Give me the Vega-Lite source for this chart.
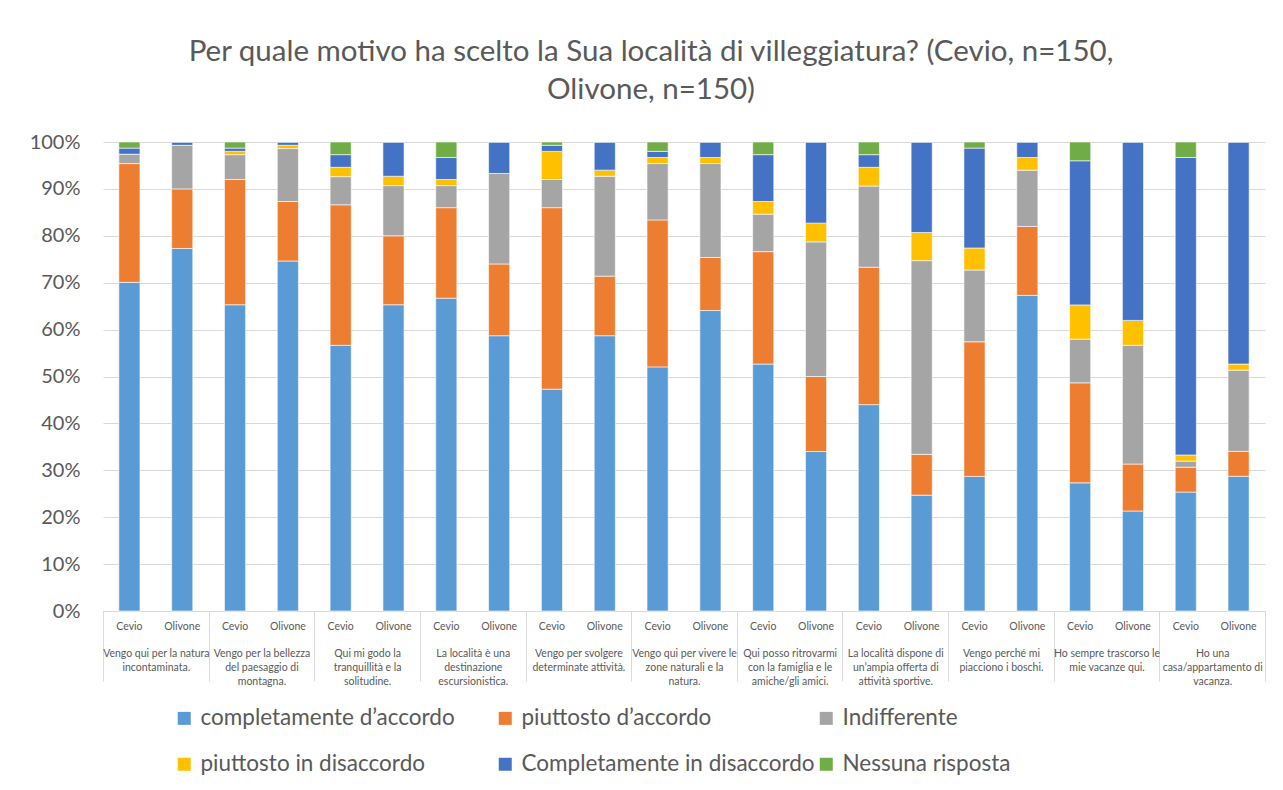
{
  "$schema": "https://vega.github.io/schema/vega-lite/v6.json",
  "width": 1162,
  "height": 469,
  "autosize": {"type": "none"},
  "padding": {"left": 103, "top": 142, "right": 18, "bottom": 179},
  "background": "white",
  "config": {"view": {"stroke": null}},
  "title": {
    "text": ["Per quale motivo ha scelto la Sua località di villeggiatura? (Cevio, n=150,", "Olivone, n=150)"],
    "font": "Lato", "fontSize": 29.5, "fontWeight": "normal", "color": "#595959",
    "lineHeight": 38, "anchor": "middle", "frame": "group", "offset": 27, "dx": -33
  },
  "data": {"values": [
    {"gruppo": "Vengo qui per la natura incontaminata.", "sito": "Cevio", "completamente d’accordo": 70.0, "piuttosto d’accordo": 25.3, "Indifferente": 2.0, "piuttosto in disaccordo": 0, "Completamente in disaccordo": 1.3, "Nessuna risposta": 1.3},
    {"gruppo": "Vengo qui per la natura incontaminata.", "sito": "Olivone", "completamente d’accordo": 77.3, "piuttosto d’accordo": 12.7, "Indifferente": 9.3, "piuttosto in disaccordo": 0, "Completamente in disaccordo": 0.7, "Nessuna risposta": 0},
    {"gruppo": "Vengo per la bellezza del paesaggio di montagna.", "sito": "Cevio", "completamente d’accordo": 65.3, "piuttosto d’accordo": 26.7, "Indifferente": 5.3, "piuttosto in disaccordo": 0.7, "Completamente in disaccordo": 0.7, "Nessuna risposta": 1.3},
    {"gruppo": "Vengo per la bellezza del paesaggio di montagna.", "sito": "Olivone", "completamente d’accordo": 74.7, "piuttosto d’accordo": 12.7, "Indifferente": 11.3, "piuttosto in disaccordo": 0.7, "Completamente in disaccordo": 0.7, "Nessuna risposta": 0},
    {"gruppo": "Qui mi godo la tranquillità e la solitudine.", "sito": "Cevio", "completamente d’accordo": 56.7, "piuttosto d’accordo": 30.0, "Indifferente": 6.0, "piuttosto in disaccordo": 2.0, "Completamente in disaccordo": 2.7, "Nessuna risposta": 2.7},
    {"gruppo": "Qui mi godo la tranquillità e la solitudine.", "sito": "Olivone", "completamente d’accordo": 65.3, "piuttosto d’accordo": 14.7, "Indifferente": 10.7, "piuttosto in disaccordo": 2.0, "Completamente in disaccordo": 7.3, "Nessuna risposta": 0},
    {"gruppo": "La località è una destinazione escursionistica.", "sito": "Cevio", "completamente d’accordo": 66.7, "piuttosto d’accordo": 19.3, "Indifferente": 4.7, "piuttosto in disaccordo": 1.3, "Completamente in disaccordo": 4.7, "Nessuna risposta": 3.3},
    {"gruppo": "La località è una destinazione escursionistica.", "sito": "Olivone", "completamente d’accordo": 58.7, "piuttosto d’accordo": 15.3, "Indifferente": 19.3, "piuttosto in disaccordo": 0, "Completamente in disaccordo": 6.7, "Nessuna risposta": 0},
    {"gruppo": "Vengo per svolgere determinate attività.", "sito": "Cevio", "completamente d’accordo": 47.3, "piuttosto d’accordo": 38.7, "Indifferente": 6.0, "piuttosto in disaccordo": 6.0, "Completamente in disaccordo": 1.3, "Nessuna risposta": 0.7},
    {"gruppo": "Vengo per svolgere determinate attività.", "sito": "Olivone", "completamente d’accordo": 58.7, "piuttosto d’accordo": 12.7, "Indifferente": 21.3, "piuttosto in disaccordo": 1.3, "Completamente in disaccordo": 6.0, "Nessuna risposta": 0},
    {"gruppo": "Vengo qui per vivere le zone naturali e la natura.", "sito": "Cevio", "completamente d’accordo": 52.0, "piuttosto d’accordo": 31.3, "Indifferente": 12.0, "piuttosto in disaccordo": 1.3, "Completamente in disaccordo": 1.3, "Nessuna risposta": 2.0},
    {"gruppo": "Vengo qui per vivere le zone naturali e la natura.", "sito": "Olivone", "completamente d’accordo": 64.0, "piuttosto d’accordo": 11.3, "Indifferente": 20.0, "piuttosto in disaccordo": 1.3, "Completamente in disaccordo": 3.3, "Nessuna risposta": 0},
    {"gruppo": "Qui posso ritrovarmi con la famiglia e le amiche/gli amici.", "sito": "Cevio", "completamente d’accordo": 52.7, "piuttosto d’accordo": 24.0, "Indifferente": 8.0, "piuttosto in disaccordo": 2.7, "Completamente in disaccordo": 10.0, "Nessuna risposta": 2.7},
    {"gruppo": "Qui posso ritrovarmi con la famiglia e le amiche/gli amici.", "sito": "Olivone", "completamente d’accordo": 34.0, "piuttosto d’accordo": 16.0, "Indifferente": 28.7, "piuttosto in disaccordo": 4.0, "Completamente in disaccordo": 17.3, "Nessuna risposta": 0},
    {"gruppo": "La località dispone di un’ampia offerta di attività sportive.", "sito": "Cevio", "completamente d’accordo": 44.0, "piuttosto d’accordo": 29.3, "Indifferente": 17.3, "piuttosto in disaccordo": 4.0, "Completamente in disaccordo": 2.7, "Nessuna risposta": 2.7},
    {"gruppo": "La località dispone di un’ampia offerta di attività sportive.", "sito": "Olivone", "completamente d’accordo": 24.7, "piuttosto d’accordo": 8.7, "Indifferente": 41.3, "piuttosto in disaccordo": 6.0, "Completamente in disaccordo": 19.3, "Nessuna risposta": 0},
    {"gruppo": "Vengo perché mi piacciono i boschi.", "sito": "Cevio", "completamente d’accordo": 28.7, "piuttosto d’accordo": 28.7, "Indifferente": 15.3, "piuttosto in disaccordo": 4.7, "Completamente in disaccordo": 21.3, "Nessuna risposta": 1.3},
    {"gruppo": "Vengo perché mi piacciono i boschi.", "sito": "Olivone", "completamente d’accordo": 67.3, "piuttosto d’accordo": 14.7, "Indifferente": 12.0, "piuttosto in disaccordo": 2.7, "Completamente in disaccordo": 3.3, "Nessuna risposta": 0},
    {"gruppo": "Ho sempre trascorso le mie vacanze qui.", "sito": "Cevio", "completamente d’accordo": 27.3, "piuttosto d’accordo": 21.3, "Indifferente": 9.3, "piuttosto in disaccordo": 7.3, "Completamente in disaccordo": 30.7, "Nessuna risposta": 4.0},
    {"gruppo": "Ho sempre trascorso le mie vacanze qui.", "sito": "Olivone", "completamente d’accordo": 21.3, "piuttosto d’accordo": 10.0, "Indifferente": 25.3, "piuttosto in disaccordo": 5.3, "Completamente in disaccordo": 38.0, "Nessuna risposta": 0},
    {"gruppo": "Ho una casa/appartamento di vacanza.", "sito": "Cevio", "completamente d’accordo": 25.3, "piuttosto d’accordo": 5.3, "Indifferente": 1.3, "piuttosto in disaccordo": 1.3, "Completamente in disaccordo": 63.3, "Nessuna risposta": 3.3},
    {"gruppo": "Ho una casa/appartamento di vacanza.", "sito": "Olivone", "completamente d’accordo": 28.7, "piuttosto d’accordo": 5.3, "Indifferente": 17.3, "piuttosto in disaccordo": 1.3, "Completamente in disaccordo": 47.3, "Nessuna risposta": 0}
  ]},
  "transform": [
    {"fold": ["completamente d’accordo", "piuttosto d’accordo", "Indifferente", "piuttosto in disaccordo", "Completamente in disaccordo", "Nessuna risposta"], "as": ["risposta", "valore"]},
    {"window": [{"op": "row_number", "as": "ordine"}], "groupby": ["gruppo", "sito"]}
  ],
  "encoding": {
    "x": {
      "field": "gruppo", "type": "nominal", "sort": null,
      "scale": {"paddingInner": 0, "paddingOuter": 0},
      "axis": {
        "title": null, "labelAngle": 0, "labelAlign": "center", "labelBaseline": "top",
        "labelFont": "Lato", "labelFontSize": 10.5, "labelColor": "#595959", "labelLineHeight": 14,
        "labelPadding": -33, "labelOverlap": false, "labelLimit": 0,
        "tickBand": "extent", "tickSize": 70, "tickColor": "#d9d9d9", "tickWidth": 1,
        "domainColor": "#d9d9d9", "domainWidth": 1, "grid": false,
        "labelExpr": "{'Vengo qui per la natura incontaminata.': ['Vengo qui per la natura', 'incontaminata.'], 'Vengo per la bellezza del paesaggio di montagna.': ['Vengo per la bellezza', 'del paesaggio di', 'montagna.'], 'Qui mi godo la tranquillità e la solitudine.': ['Qui mi godo la', 'tranquillità e la', 'solitudine.'], 'La località è una destinazione escursionistica.': ['La località è una', 'destinazione', 'escursionistica.'], 'Vengo per svolgere determinate attività.': ['Vengo per svolgere', 'determinate attività.'], 'Vengo qui per vivere le zone naturali e la natura.': ['Vengo qui per vivere le', 'zone naturali e la', 'natura.'], 'Qui posso ritrovarmi con la famiglia e le amiche/gli amici.': ['Qui posso ritrovarmi', 'con la famiglia e le', 'amiche/gli amici.'], 'La località dispone di un’ampia offerta di attività sportive.': ['La località dispone di', 'un’ampia offerta di', 'attività sportive.'], 'Vengo perché mi piacciono i boschi.': ['Vengo perché mi', 'piacciono i boschi.'], 'Ho sempre trascorso le mie vacanze qui.': ['Ho sempre trascorso le', 'mie vacanze qui.'], 'Ho una casa/appartamento di vacanza.': ['Ho una', 'casa/appartamento di', 'vacanza.']}[datum.label]"
      }
    },
    "xOffset": {"field": "sito", "type": "nominal", "sort": ["Cevio", "Olivone"], "scale": {"paddingInner": 0.6, "paddingOuter": 0.3}}
  },
  "layer": [
    {
      "mark": {"type": "bar", "stroke": "white", "strokeWidth": 0.6},
      "encoding": {
        "y": {
          "field": "valore", "type": "quantitative", "stack": "normalize",
          "scale": {"domain": [0, 1]},
          "axis": {
            "title": null, "values": [0, 0.1, 0.2, 0.3, 0.4, 0.5, 0.6, 0.7, 0.8, 0.9, 1], "format": ".0%",
            "grid": true, "gridColor": "#d9d9d9", "gridWidth": 1, "domain": false, "ticks": false,
            "labelPadding": 23, "labelFont": "Lato", "labelFontSize": 20, "labelColor": "#595959"
          }
        },
        "order": {"field": "ordine", "type": "quantitative", "sort": "ascending"},
        "color": {
          "field": "risposta", "type": "nominal",
          "sort": ["completamente d’accordo", "piuttosto d’accordo", "Indifferente", "piuttosto in disaccordo", "Completamente in disaccordo", "Nessuna risposta"],
          "scale": {
            "domain": ["completamente d’accordo", "piuttosto d’accordo", "Indifferente", "piuttosto in disaccordo", "Completamente in disaccordo", "Nessuna risposta"],
            "range": ["#5B9BD5", "#ED7D31", "#A5A5A5", "#FFC000", "#4472C4", "#70AD47"]
          },
          "legend": {
            "orient": "none", "legendX": 70, "legendY": 565, "direction": "horizontal", "columns": 3, "gridAlign": "all",
            "columnPadding": -3, "rowPadding": 23, "symbolType": "square", "symbolSize": 169, "symbolStrokeWidth": 0,
            "labelFont": "Lato", "labelFontSize": 22.5, "labelColor": "#595959", "labelOffset": 5, "labelLimit": 0, "title": null
          }
        }
      }
    },
    {
      "transform": [{"filter": "datum.risposta === 'Nessuna risposta'"}],
      "mark": {"type": "text", "dy": 16, "baseline": "middle", "align": "center", "font": "Lato", "fontSize": 10.5, "color": "#595959"},
      "encoding": {"y": {"datum": 0}, "text": {"field": "sito"}}
    }
  ]
}
